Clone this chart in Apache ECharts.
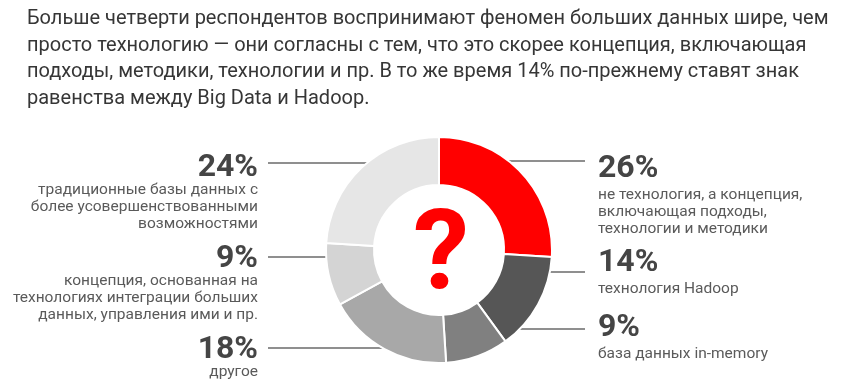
<!DOCTYPE html>
<html>
<head>
<meta charset="utf-8">
<script src="https://cdn.jsdelivr.net/npm/echarts@6/dist/echarts.min.js"></script>
<style>
html,body{margin:0;padding:0;background:#fff;}
#chart{width:854px;height:389px;}
</style>
</head>
<body>
<div id="chart"></div>
<script>
// ---- data ----
const titleLines = [
  'Больше четверти респондентов воспринимают феномен больших данных шире, чем',
  'просто технологию — они согласны с тем, что это скорее концепция, включающая',
  'подходы, методики, технологии и пр. В то же время 14% по-прежнему ставят знак',
  'равенства между Big Data и Hadoop.'
];
const categories = [
  ['не технология, а концепция,', 'включающая подходы,', 'технологии и методики'],
  ['технология Hadoop'],
  ['база данных in-memory'],
  ['другое'],
  ['концепция, основанная на', 'технологиях интеграции больших', 'данных, управления ими и пр.'],
  ['традиционные базы данных с', 'более усовершенствованными', 'возможностями']
];
const values = [26, 14, 9, 18, 9, 24];
const centerMark = '?';

// ---- styles / layout (kept apart from data) ----
const colors = ['#ff0000', '#565656', '#808080', '#a8a8a8', '#d4d4d4', '#e6e6e6'];
const side = ['r', 'r', 'r', 'l', 'l', 'l'];
const labelX = [598, 598, 598, 258, 258, 258];
const labelTop = [151, 245, 310, 336, 245, 154];
const lineY = [161, 272, 329, 348, 257, 163];
const lineInnerX = [487, 530, 472, 422, 345, 387];
const lineOuterX = [585, 585, 585, 268, 268, 268];

const chart = echarts.init(document.getElementById('chart'), null, {renderer: 'canvas'});

const data = values.map((v, i) => ({
  value: v,
  name: categories[i].join(' '),
  itemStyle: {color: colors[i]}
}));

const option = {
  animation: false,
  title: {
    text: titleLines.join('\n'),
    left: 27,
    top: 6,
    padding: 0,
    textStyle: {
      fontFamily: 'Roboto',
      fontSize: 20,
      fontWeight: 'normal',
      lineHeight: 26.5,
      color: '#363636'
    }
  },
  graphic: [{
    type: 'text',
    silent: true,
    style: {
      text: centerMark,
      x: 441,
      y: 260,
      align: 'center',
      verticalAlign: 'middle',
      fontFamily: 'Roboto',
      fontWeight: 'bold',
      fontSize: 112,
      fill: '#ff0000'
    }
  }],
  series: [{
    type: 'pie',
    center: [439, 250],
    radius: [65, 113],
    startAngle: 90,
    clockwise: true,
    avoidLabelOverlap: false,
    silent: true,
    itemStyle: {borderColor: '#ffffff', borderWidth: 2},
    emphasis: {disabled: true},
    label: {
      show: true,
      position: 'outside',
      fontFamily: 'Roboto',
      formatter: function (p) {
        const i = p.dataIndex;
        const pk = side[i] === 'l' ? 'pl' : 'pr';
        return ['{' + pk + '|' + values[i] + '%}']
          .concat(categories[i].map(s => '{t|' + s + '}'))
          .join('\n');
      },
      rich: {
        pl: {fontFamily: 'Roboto', fontSize: 32, fontWeight: 'bold', color: '#454545', lineHeight: 28},
        pr: {fontFamily: 'Roboto', fontSize: 32, fontWeight: 'bold', color: '#454545', lineHeight: 36},
        t: {fontFamily: 'Roboto', fontSize: 15.5, color: '#5a5a5a', lineHeight: 16.8}
      }
    },
    labelLine: {
      show: true,
      lineStyle: {color: '#6a6a6a', width: 1.5}
    },
    labelLayout: function (params) {
      const i = params.dataIndex;
      return {
        x: labelX[i],
        y: labelTop[i],
        align: side[i] === 'l' ? 'right' : 'left',
        verticalAlign: 'top',
        labelLinePoints: [
          [lineInnerX[i], lineY[i]],
          [lineOuterX[i], lineY[i]],
          [lineOuterX[i], lineY[i]]
        ]
      };
    },
    data: data
  }]
};
chart.setOption(option);
</script>
</body>
</html>
